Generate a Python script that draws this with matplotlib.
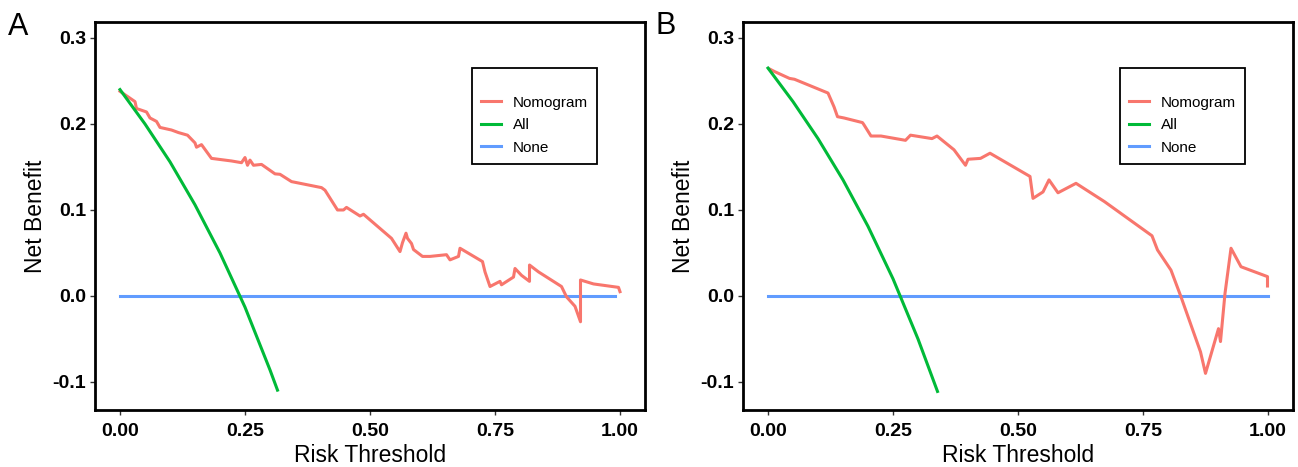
import matplotlib
matplotlib.use("Agg")
import matplotlib.pyplot as plt

plt.rcParams["font.family"] = ["Liberation Sans", "DejaVu Sans"]

# ---------------------------------------------------------------------------
# Data
# ---------------------------------------------------------------------------

# Panel A
a_nomo_t = [0.0, 0.03, 0.033, 0.053, 0.06, 0.073, 0.08, 0.103, 0.117, 0.135, 0.15,
            0.153, 0.163, 0.183, 0.223, 0.243, 0.25, 0.255, 0.26, 0.267, 0.283, 0.31,
            0.32, 0.343, 0.403, 0.41, 0.435, 0.447, 0.453, 0.48, 0.487, 0.543, 0.56,
            0.565, 0.572, 0.575, 0.583, 0.587, 0.605, 0.62, 0.653, 0.66, 0.677, 0.68,
            0.725, 0.73, 0.74, 0.76, 0.763, 0.787, 0.79, 0.803, 0.819, 0.819, 0.837,
            0.883, 0.893, 0.91, 0.921, 0.921, 0.947, 0.997, 1.0]
a_nomo_nb = [0.238, 0.226, 0.218, 0.214, 0.207, 0.203, 0.196, 0.193, 0.190, 0.187, 0.178,
             0.173, 0.176, 0.160, 0.157, 0.155, 0.161, 0.152, 0.158, 0.152, 0.153, 0.142,
             0.1415, 0.133, 0.126, 0.123, 0.100, 0.100, 0.103, 0.093, 0.095, 0.067, 0.0516,
             0.062, 0.073, 0.067, 0.061, 0.054, 0.046, 0.046, 0.048, 0.042, 0.046, 0.0555,
             0.040, 0.028, 0.011, 0.017, 0.013, 0.022, 0.032, 0.024, 0.017, 0.036, 0.028,
             0.011, -0.001, -0.012, -0.030, 0.0186, 0.014, 0.010, 0.005]
a_all_t = [0.0, 0.05, 0.1, 0.15, 0.2, 0.25, 0.3, 0.315]
a_all_nb = [0.240, 0.200, 0.156, 0.106, 0.050, -0.013, -0.086, -0.1095]

# Panel B
b_nomo_t = [0.003, 0.013, 0.043, 0.053, 0.12, 0.132, 0.139, 0.152, 0.189, 0.192, 0.206,
            0.226, 0.275, 0.285, 0.328, 0.338, 0.372, 0.395, 0.4, 0.425, 0.444, 0.524,
            0.53, 0.55, 0.562, 0.58, 0.616, 0.673, 0.768, 0.779, 0.806, 0.826, 0.865,
            0.875, 0.901, 0.905, 0.914, 0.926, 0.946, 0.999, 0.999]
b_nomo_nb = [0.264, 0.261, 0.253, 0.252, 0.236, 0.220, 0.2085, 0.207, 0.2016, 0.199, 0.186,
             0.186, 0.181, 0.187, 0.183, 0.186, 0.170, 0.152, 0.159, 0.160, 0.166, 0.139,
             0.1135, 0.121, 0.135, 0.120, 0.131, 0.1097, 0.070, 0.0535, 0.030, -0.001, -0.065,
             -0.090, -0.038, -0.053, 0.003, 0.0555, 0.034, 0.0225, 0.0116]
b_all_t = [0.0, 0.05, 0.1, 0.15, 0.2, 0.25, 0.3, 0.339]
b_all_nb = [0.265, 0.226, 0.183, 0.135, 0.081, 0.020, -0.050, -0.111]

none_t = [0.0, 1.0]
none_nb = [0.0, 0.0]

x_ticks = [0.0, 0.25, 0.5, 0.75, 1.0]
x_ticklabels = ["0.00", "0.25", "0.50", "0.75", "1.00"]
y_ticks = [-0.1, 0.0, 0.1, 0.2, 0.3]
y_ticklabels = ["-0.1", "0.0", "0.1", "0.2", "0.3"]

COLORS = {"Nomogram": "#F8766D", "All": "#00BA38", "None": "#619CFF"}

panels = [
    ("A", a_nomo_t, a_nomo_nb, a_all_t, a_all_nb, 0.99),
    ("B", b_nomo_t, b_nomo_nb, b_all_t, b_all_nb, 1.0),
]

fig = plt.figure(figsize=(12.98, 4.67), dpi=100)
axes_rects = [
    [95 / 1298, 57 / 467, 550 / 1298, 388 / 467],
    [743 / 1298, 57 / 467, 550 / 1298, 388 / 467],
]
label_pos = [(8 / 1298, 1 - 35 / 467), (656 / 1298, 1 - 34 / 467)]

for (tag, nt, nb, at, ab, none_end), rect, lp in zip(panels, axes_rects, label_pos):
    ax = fig.add_axes(rect)
    ax.plot(nt, nb, color=COLORS["Nomogram"], lw=2.2, label="Nomogram", zorder=3)
    ax.plot(at, ab, color=COLORS["All"], lw=2.2, label="All", zorder=3)
    ax.plot([none_t[0], none_end], none_nb, color=COLORS["None"], lw=2.2,
            label="None", zorder=2)

    ax.set_xlim(-0.05, 1.05)
    ax.set_ylim(-0.1326, 0.3186)
    ax.set_xticks(x_ticks)
    ax.set_xticklabels(x_ticklabels)
    ax.set_yticks(y_ticks)
    ax.set_yticklabels(y_ticklabels)
    for lbl in ax.get_xticklabels() + ax.get_yticklabels():
        lbl.set_fontweight("bold")
        lbl.set_fontsize(14)
        lbl.set_color("black")
    ax.tick_params(direction="out", length=3.5, width=1.0, color="#333333")
    ax.tick_params(axis="x", pad=6)
    ax.tick_params(axis="y", pad=3)
    for sp in ax.spines.values():
        sp.set_linewidth(2.0)
        sp.set_color("black")

    ax.set_xlabel("Risk Threshold", fontsize=16.5, labelpad=3)
    ax.set_ylabel("Net Benefit", fontsize=16.5, labelpad=4)

    leg = ax.legend(loc="upper left", bbox_to_anchor=(0.685, 0.881),
                    title=" ", title_fontsize=7, fontsize=11,
                    frameon=True, fancybox=False, handlelength=1.3,
                    handletextpad=0.8, borderpad=0.6, labelspacing=0.55,
                    borderaxespad=0)
    frame = leg.get_frame()
    frame.set_edgecolor("black")
    frame.set_linewidth(1.3)
    frame.set_alpha(1)
    leg._legend_box.align = "left"

    fig.text(lp[0], lp[1], tag, fontsize=22, ha="left", va="baseline")

fig.savefig("out.png", dpi=100)
